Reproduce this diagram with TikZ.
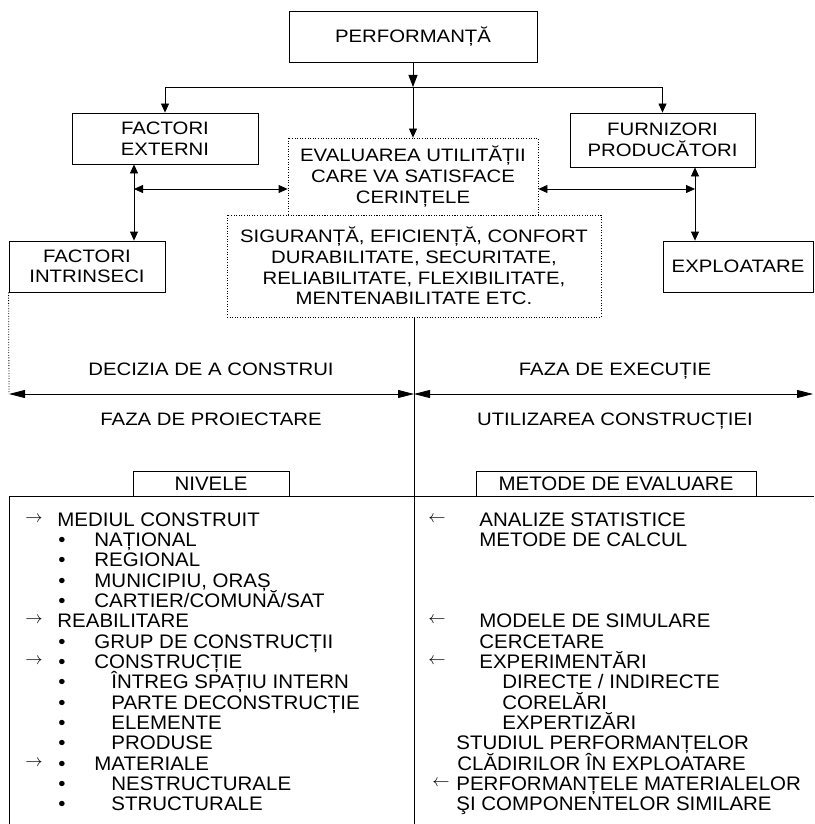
\documentclass[tikz,border=0pt]{standalone}
\usepackage{fontspec}
\setmainfont{Liberation Sans}
\newfontfamily\topf[FakeStretch=1.13]{Liberation Sans}
\newfontfamily\botf[FakeStretch=1.045]{Liberation Sans}
\usetikzlibrary{arrows.meta}
\begin{document}
\begin{tikzpicture}[x=1pt,y=-1pt,
  line width=0.8pt,
  tfont/.style={font=\topf\fontsize{18}{20.6}\selectfont},
  bfont/.style={font=\botf\fontsize{19.6}{20.33}\selectfont},
  box/.style={draw, inner sep=0pt, align=center, tfont},
  dotbox/.style={box, dash pattern=on 1pt off 1.6pt},
  hdrbox/.style={draw, inner sep=0pt, align=center, bfont},
  lbl/.style={inner sep=0pt, anchor=base, tfont},
  itm/.style={inner sep=0pt, anchor=base west, bfont},
  arr/.style={inner sep=0pt, anchor=center, font=\fontsize{16.5}{16.5}\selectfont},
  sa/.style={-{Triangle[length=9pt,width=8pt]}},
  sa2/.style={{Triangle[length=9pt,width=8pt]}-{Triangle[length=9pt,width=8pt]}},
  ba2/.style={{Triangle[length=16pt,width=8pt]}-{Triangle[length=16pt,width=8pt]}},
  dotline/.style={dash pattern=on 1pt off 1.6pt}]
\useasboundingbox (0,0) rectangle (814,824);

% ---- top boxes
\node[box, minimum width=248pt, minimum height=51pt] (perf) at (413,36.5) {PERFORMANȚĂ};
\node[box, minimum width=186pt, minimum height=51pt] (fe) at (165,138.5) {FACTORI\\EXTERNI};
\node[box, minimum width=185pt, minimum height=54pt] (fp) at (662.5,140) {FURNIZORI\\PRODUCĂTORI};
\node[dotbox, minimum width=250pt, minimum height=77pt] (ev) at (413,176.5) {EVALUAREA UTILITĂȚII\\CARE VA SATISFACE\\CERINȚELE};
\node[dotbox, minimum width=374pt, minimum height=102pt] (sg) at (414,266) {SIGURANȚĂ, EFICIENȚĂ, CONFORT\\DURABILITATE, SECURITATE,\\RELIABILITATE, FLEXIBILITATE,\\MENTENABILITATE ETC.};
\node[box, minimum width=156pt, minimum height=51pt] (fi) at (87,266.5) {FACTORI\\INTRINSECI};
\node[box, minimum width=150pt, minimum height=51pt] (ex) at (738,266.5) {EXPLOATARE};

% ---- top connectors
\coordinate (j) at (413,87);
\draw[-{Triangle[length=12pt,width=9pt]}] (perf.south) -- (j);
\draw (fe.north |- j) -- (fp.north |- j);
\draw[sa] (fe.north |- j) -- (fe.north);
\draw[sa] (fp.north |- j) -- (fp.north);
\draw[sa] (j) -- (ev.north);

\coordinate (cl) at (134,189);
\coordinate (cr) at (695,189);
\draw[sa2] (fe.south -| cl) -- (fi.north -| cl);
\draw[sa2] (cl) -- (ev.west |- cl);
\draw[sa2] (ev.east |- cr) -- (cr);
\draw[sa2] (fp.south -| cr) -- (ex.north -| cr);

% ---- phases
\coordinate (ml) at (9,394);
\coordinate (mm) at (414,394);
\coordinate (mr) at (813,394);
\coordinate (bot) at (414,824);
\draw (sg.south) -- (bot);
\draw[dotline] (fi.south west) -- (ml);
\draw[ba2] (ml) -- (mm);
\draw[ba2] (mm) -- (mr);

\node[lbl] (dec) at (211,375.5) {DECIZIA DE A CONSTRUI};
\node[lbl] (exe) at (615,375.5) {FAZA DE EXECUȚIE};
\node[lbl] (pro) at (211,425.5) {FAZA DE PROIECTARE};
\node[lbl] (uti) at (615,425.5) {UTILIZAREA CONSTRUCȚIEI};

% ---- bottom frame
\node[hdrbox, minimum width=156pt, minimum height=25pt] (niv) at (211,483.5) {NIVELE};
\node[hdrbox, minimum width=280pt, minimum height=25pt] (met) at (616,483.5) {METODE DE EVALUARE};
\coordinate (tl) at (9,496);
\coordinate (tr) at (814,496);
\coordinate (bl) at (9,824);
\draw (bl) -- (tl) -- (tr);

% ---- left list
\node[arr] (a0) at (34,519) {$\rightarrow$};
\node[itm] (l0) at (57,526) {MEDIUL CONSTRUIT};
\node[itm] (b1) at (58,546.33) {•};
\node[itm] (l1) at (94,546.33) {NAȚIONAL};
\node[itm] (b2) at (58,566.67) {•};
\node[itm] (l2) at (94,566.67) {REGIONAL};
\node[itm] (b3) at (58,587) {•};
\node[itm] (l3) at (94,587) {MUNICIPIU, ORAȘ};
\node[itm] (b4) at (58,607.33) {•};
\node[itm] (l4) at (94,607.33) {CARTIER/COMUNĂ/SAT};
\node[arr] (a5) at (34,620.67) {$\rightarrow$};
\node[itm] (l5) at (57,627.67) {REABILITARE};
\node[itm] (b6) at (58,648) {•};
\node[itm] (l6) at (94,648) {GRUP DE CONSTRUCȚII};
\node[arr] (a7) at (34,661.33) {$\rightarrow$};
\node[itm] (b7) at (58,668.33) {•};
\node[itm] (l7) at (94,668.33) {CONSTRUCȚIE};
\node[itm] (b8) at (58,688.67) {•};
\node[itm] (l8) at (111,688.67) {ÎNTREG SPAȚIU INTERN};
\node[itm] (b9) at (58,709) {•};
\node[itm] (l9) at (111,709) {PARTE DECONSTRUCȚIE};
\node[itm] (b10) at (58,729.33) {•};
\node[itm] (l10) at (111,729.33) {ELEMENTE};
\node[itm] (b11) at (58,749.67) {•};
\node[itm] (l11) at (111,749.67) {PRODUSE};
\node[arr] (a12) at (34,763) {$\rightarrow$};
\node[itm] (b12) at (58,770) {•};
\node[itm] (l12) at (94,770) {MATERIALE};
\node[itm] (b13) at (58,790.33) {•};
\node[itm] (l13) at (111,790.33) {NESTRUCTURALE};
\node[itm] (b14) at (58,810.67) {•};
\node[itm] (l14) at (111,810.67) {STRUCTURALE};

% ---- right list
\node[arr] (r0a) at (437,519) {$\leftarrow$};
\node[itm] (r0) at (479,526) {ANALIZE STATISTICE};
\node[itm] (r1) at (479,546.33) {METODE DE CALCUL};
\node[arr] (r5a) at (437,620.67) {$\leftarrow$};
\node[itm] (r5) at (479,627.67) {MODELE DE SIMULARE};
\node[itm] (r6) at (479,648) {CERCETARE};
\node[arr] (r7a) at (437,661.33) {$\leftarrow$};
\node[itm] (r7) at (479,668.33) {EXPERIMENTĂRI};
\node[itm] (r8) at (502,688.67) {DIRECTE / INDIRECTE};
\node[itm] (r9) at (502,709) {CORELĂRI};
\node[itm] (r10) at (502,729.33) {EXPERTIZĂRI};
\node[itm] (r11) at (456,749.67) {STUDIUL PERFORMANȚELOR};
\node[itm] (r12) at (457,770) {CLĂDIRILOR ÎN EXPLOATARE};
\node[arr] (r13a) at (441,783.33) {$\leftarrow$};
\node[itm] (r13) at (456,790.33) {PERFORMANȚELE MATERIALELOR};
\node[itm] (r14) at (456,810.67) {ŞI COMPONENTELOR SIMILARE};
\end{tikzpicture}
\end{document}
